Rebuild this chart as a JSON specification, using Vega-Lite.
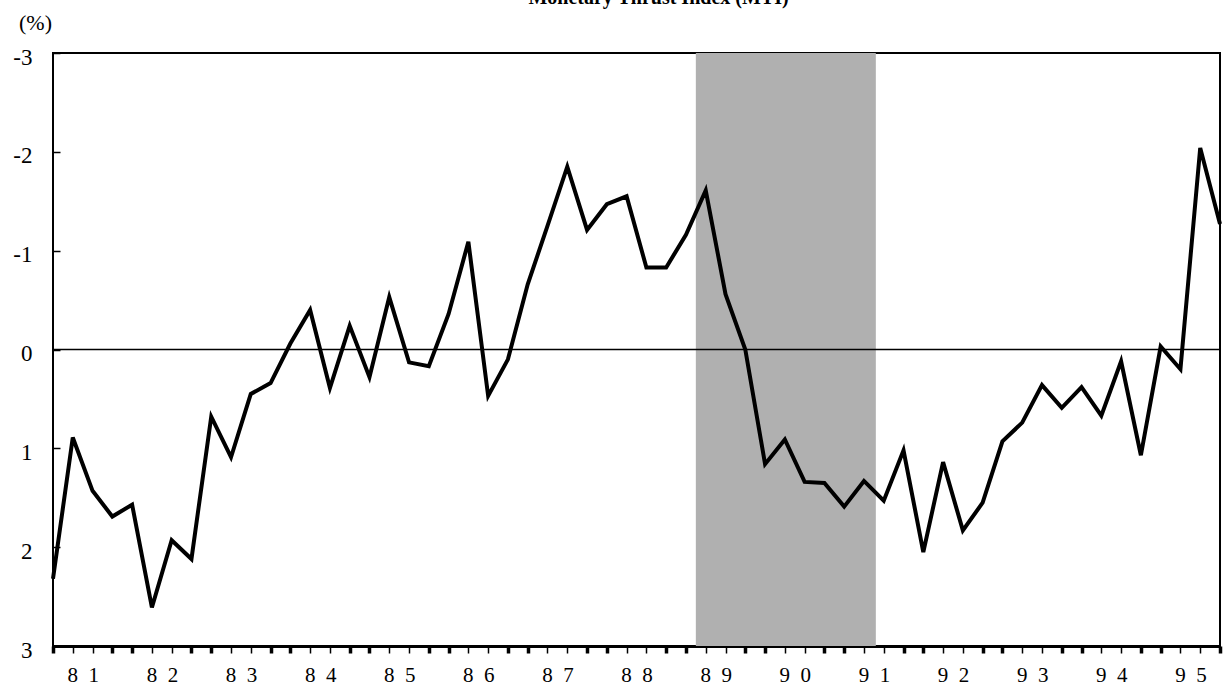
{
  "$schema": "https://vega.github.io/schema/vega-lite/v6.json",
  "width": 1167,
  "height": 593,
  "autosize": {"type": "none"},
  "padding": {"left": 53, "top": 53, "right": 4, "bottom": 45},
  "background": "white",
  "title": {"text": "Monetary Thrust Index (MTI)", "font": "Liberation Serif", "fontSize": 20, "fontWeight": "bold", "baseline": "alphabetic", "offset": 2, "dy": 15, "dx": 22, "anchor": "middle", "color": "black"},
  "config": {
    "view": {"stroke": "black", "strokeWidth": 2},
    "axis": {"grid": false, "labelFont": "Liberation Serif", "titleFont": "Liberation Serif", "labelColor": "black", "tickColor": "black", "domainColor": "black", "titleColor": "black"}
  },
  "encoding": {
    "x": {
      "field": "t", "type": "quantitative",
      "scale": {"domain": [1981, 1995.75], "nice": false, "zero": false},
      "axis": {
        "title": null,
        "values": [1981, 1981.25, 1981.5, 1981.75, 1982, 1982.25, 1982.5, 1982.75, 1983, 1983.25, 1983.5, 1983.75, 1984, 1984.25, 1984.5, 1984.75, 1985, 1985.25, 1985.5, 1985.75, 1986, 1986.25, 1986.5, 1986.75, 1987, 1987.25, 1987.5, 1987.75, 1988, 1988.25, 1988.5, 1988.75, 1989, 1989.25, 1989.5, 1989.75, 1990, 1990.25, 1990.5, 1990.75, 1991, 1991.25, 1991.5, 1991.75, 1992, 1992.25, 1992.5, 1992.75, 1993, 1993.25, 1993.5, 1993.75, 1994, 1994.25, 1994.5, 1994.75, 1995, 1995.25, 1995.5, 1995.75],
        "domainWidth": 3,
        "tickSize": 7,
        "tickWidth": {"condition": {"test": "round(datum.value*4) % 4 == 0 || round(datum.value*4) % 4 == 3", "value": 3.5}, "value": 1.5},
        "labelExpr": "round(datum.value*4) % 4 == 1 ? slice(toString(floor(datum.value)), 2, 3) + '\u2002' + slice(toString(floor(datum.value)), 3) : ''",
        "labelOffset": 10,
        "labelFontSize": 21,
        "labelPadding": 11
      }
    }
  },
  "layer": [
    {
      "data": {"values": [{"t": 1989.125, "t2": 1991.4}]},
      "mark": {"type": "rect", "color": "#b0b0b0"},
      "encoding": {
        "x2": {"field": "t2"}
      }
    },
    {
      "data": {"values": [{"t": 1981, "t2": 1995.75, "v": 0}]},
      "mark": {"type": "rule", "color": "black", "strokeWidth": 1.5},
      "encoding": {
        "x2": {"field": "t2"},
        "y": {
          "field": "v", "type": "quantitative",
          "scale": {"domain": [-3, 3], "reverse": true, "nice": false, "zero": false},
          "axis": {
            "values": [-3, -2, -1, 0, 1, 2, 3],
            "labelExpr": "toString(datum.value)",
            "title": "(%)",
            "titleAngle": 0,
            "titleX": -18,
            "titleY": -31,
            "titleAlign": "center",
            "titleBaseline": "middle",
            "titleFontSize": 22,
            "titleFontWeight": "normal",
            "labelFontSize": 23,
            "tickSize": -7,
            "tickWidth": 1.5,
            "labelPadding": 28,
            "labelOffset": 4,
            "domain": false
          }
        }
      }
    },
    {
      "data": {"values": [
        {"t": 1981.0, "v": 2.32}, {"t": 1981.25, "v": 0.89}, {"t": 1981.5, "v": 1.43}, {"t": 1981.75, "v": 1.69},
        {"t": 1982.0, "v": 1.57}, {"t": 1982.25, "v": 2.61}, {"t": 1982.5, "v": 1.93}, {"t": 1982.75, "v": 2.12},
        {"t": 1983.0, "v": 0.68}, {"t": 1983.25, "v": 1.09}, {"t": 1983.5, "v": 0.45}, {"t": 1983.75, "v": 0.34},
        {"t": 1984.0, "v": -0.06}, {"t": 1984.25, "v": -0.40}, {"t": 1984.5, "v": 0.39}, {"t": 1984.75, "v": -0.24},
        {"t": 1985.0, "v": 0.28}, {"t": 1985.25, "v": -0.53}, {"t": 1985.5, "v": 0.13}, {"t": 1985.75, "v": 0.17},
        {"t": 1986.0, "v": -0.36}, {"t": 1986.25, "v": -1.09}, {"t": 1986.5, "v": 0.47}, {"t": 1986.75, "v": 0.10},
        {"t": 1987.0, "v": -0.66}, {"t": 1987.25, "v": -1.25}, {"t": 1987.5, "v": -1.85}, {"t": 1987.75, "v": -1.21},
        {"t": 1988.0, "v": -1.47}, {"t": 1988.25, "v": -1.55}, {"t": 1988.5, "v": -0.83}, {"t": 1988.75, "v": -0.83},
        {"t": 1989.0, "v": -1.16}, {"t": 1989.25, "v": -1.61}, {"t": 1989.5, "v": -0.56}, {"t": 1989.75, "v": 0.0},
        {"t": 1990.0, "v": 1.16}, {"t": 1990.25, "v": 0.91}, {"t": 1990.5, "v": 1.34}, {"t": 1990.75, "v": 1.35},
        {"t": 1991.0, "v": 1.59}, {"t": 1991.25, "v": 1.33}, {"t": 1991.5, "v": 1.53}, {"t": 1991.75, "v": 1.02},
        {"t": 1992.0, "v": 2.05}, {"t": 1992.25, "v": 1.14}, {"t": 1992.5, "v": 1.83}, {"t": 1992.75, "v": 1.55},
        {"t": 1993.0, "v": 0.93}, {"t": 1993.25, "v": 0.74}, {"t": 1993.5, "v": 0.36}, {"t": 1993.75, "v": 0.59},
        {"t": 1994.0, "v": 0.38}, {"t": 1994.25, "v": 0.67}, {"t": 1994.5, "v": 0.12}, {"t": 1994.75, "v": 1.07},
        {"t": 1995.0, "v": -0.03}, {"t": 1995.25, "v": 0.20}, {"t": 1995.5, "v": -2.04}, {"t": 1995.75, "v": -1.27}
      ]},
      "mark": {"type": "line", "color": "black", "strokeWidth": 4, "strokeJoin": "miter", "strokeMiterLimit": 4},
      "encoding": {
        "y": {"field": "v", "type": "quantitative"}
      }
    }
  ]
}
